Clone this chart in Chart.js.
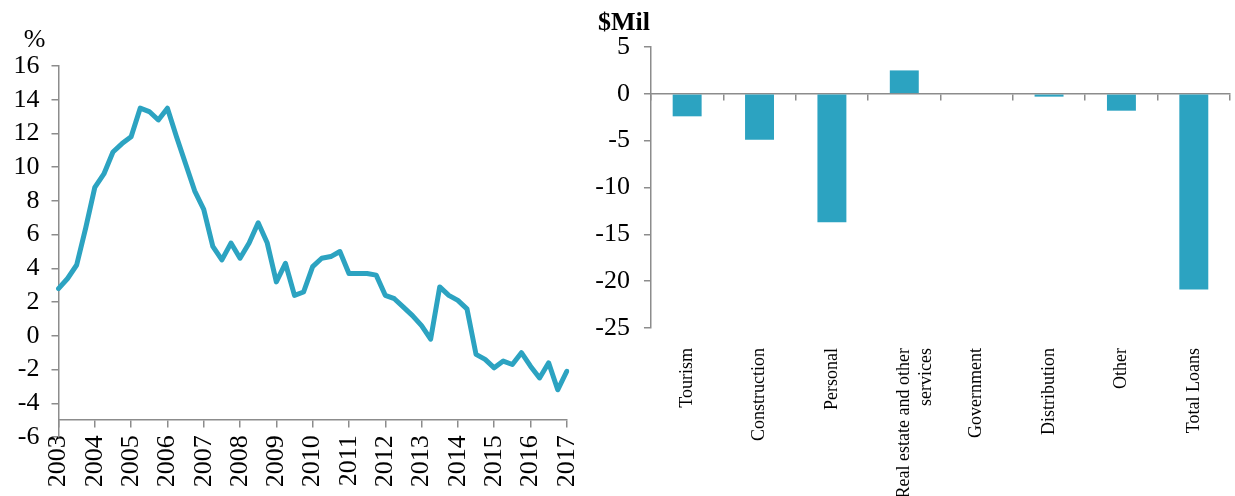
<!DOCTYPE html>
<html>
<head>
<meta charset="utf-8">
<script src="https://cdn.jsdelivr.net/npm/chart.js@4.4.0/dist/chart.umd.min.js"></script>
<style>
  html, body { margin: 0; padding: 0; background: #fff; }
  #wrap { position: relative; width: 1235px; height: 496px; overflow: hidden; }
  canvas { position: absolute; top: 0; }
  #growthChart { left: 0; }
  #loansChart { left: 580px; }
</style>
</head>
<body>
<div id="wrap">
  <canvas id="growthChart" width="606" height="496"></canvas>
  <canvas id="loansChart" width="655" height="496"></canvas>
</div>
<script>
// left panel: quarterly growth, %
const years = ['2003', '2004', '2005', '2006', '2007', '2008', '2009', '2010',
  '2011', '2012', '2013', '2014', '2015', '2016', '2017'];
const growth = [
  2.8, 3.4, 4.2, 6.4,
  8.8, 9.6, 10.9, 11.4,
  11.8, 13.5, 13.3, 12.8,
  13.5, 11.8, 10.2, 8.6,
  7.5, 5.3, 4.5, 5.5,
  4.6, 5.5, 6.7, 5.5,
  3.2, 4.3, 2.4, 2.6,
  4.1, 4.6, 4.7, 5.0,
  3.7, 3.7, 3.7, 3.6,
  2.4, 2.2, 1.7, 1.2,
  0.6, -0.2, 2.9, 2.4,
  2.1, 1.6, -1.1, -1.4,
  -1.9, -1.5, -1.7, -1.0,
  -1.8, -2.5, -1.6, -3.2,
  -2.1
];
const growthTicks = [16, 14, 12, 10, 8, 6, 4, 2, 0, -2, -4, -6];

// right panel: change in loans by sector, $Mil
const sectors = ['Tourism', 'Construction', 'Personal', ['Real estate and other', 'services'],
  'Government', 'Distribution', 'Other', 'Total Loans'];
const loanChange = [-2.4, -4.9, -13.7, 2.5, 0, -0.3, -1.8, -20.9];
const loanTicks = [5, 0, -5, -10, -15, -20, -25];

const teal = '#2ca3c1';
const gray = '#8c8c8c';
const serif = 'Liberation Serif';

// quarter labels, one per point
const quarters = [];
years.forEach((y, i) => {
  const n = i === years.length - 1 ? 1 : 4;
  for (let q = 1; q <= n; q++) quarters.push(y + ' Q' + q);
});

// unit caption above the value axis
const unitLabel = {
  id: 'unitLabel',
  afterDraw(chart, args, opts) {
    const { ctx, chartArea } = chart;
    ctx.save();
    ctx.font = opts.font;
    ctx.fillStyle = '#000';
    ctx.textAlign = 'right';
    ctx.textBaseline = 'middle';
    ctx.fillText(opts.text, chartArea.left + opts.dx, chartArea.top + opts.dy);
    ctx.restore();
  },
};

new Chart(document.getElementById('growthChart'), {
  type: 'line',
  data: {
    labels: quarters,
    datasets: [{
      data: growth,
      borderColor: teal,
      borderWidth: 5,
      pointRadius: 0,
      tension: 0,
      borderJoinStyle: 'round',
      borderCapStyle: 'round',
    }],
  },
  options: {
    responsive: false,
    animation: false,
    devicePixelRatio: 1,
    layout: { padding: { left: 1.5, top: 66, right: 33.5, bottom: 59 } },
    plugins: {
      legend: { display: false },
      tooltip: { enabled: false },
      unitLabel: { text: '%', font: '26px "' + serif + '"', dx: -13, dy: -26 },
    },
    scales: {
      x: {
        position: { y: -5 },
        offset: false,
        grid: {
          drawOnChartArea: false,
          tickLength: 7,
          lineWidth: 1.5,
          color: c => (c.index % 4 === 0 ? gray : 'rgba(0,0,0,0)'),
        },
        border: { color: gray, width: 1.5 },
        ticks: {
          autoSkip: false,
          minRotation: 90,
          maxRotation: 90,
          padding: 8,
          color: '#000',
          font: { family: serif, size: 26 },
          callback: function (v) {
            const l = this.getLabelForValue(v);
            return l.endsWith('Q1') ? l.slice(0, 4) : '';
          },
        },
      },
      y: {
        min: growthTicks[growthTicks.length - 1],
        max: growthTicks[0],
        afterBuildTicks: s => { s.ticks = growthTicks.map(v => ({ value: v })); },
        grid: { drawOnChartArea: false, tickLength: 7, color: gray, lineWidth: 1.5 },
        border: { color: gray, width: 1.5 },
        ticks: { autoSkip: false, padding: 12, color: '#000', font: { family: serif, size: 26 } },
      },
    },
  },
  plugins: [unitLabel],
});

new Chart(document.getElementById('loansChart'), {
  type: 'bar',
  data: {
    labels: sectors,
    datasets: [{
      data: loanChange,
      backgroundColor: teal,
      barPercentage: 0.4,
      categoryPercentage: 1,
    }],
  },
  options: {
    responsive: false,
    animation: false,
    devicePixelRatio: 1,
    layout: { padding: { left: 1.3, top: 47, right: 5, bottom: 0 } },
    plugins: {
      legend: { display: false },
      tooltip: { enabled: false },
      unitLabel: { text: '$Mil', font: 'bold 26px "' + serif + '"', dx: -1, dy: -24 },
    },
    scales: {
      x: {
        position: 'bottom',
        grid: { display: false },
        border: { display: false },
        ticks: {
          autoSkip: false,
          minRotation: 90,
          maxRotation: 90,
          padding: 12,
          color: '#000',
          font: { family: serif, size: 18 },
        },
        afterFit: s => { s.height = 168; },
      },
      // zero line with tick marks between sectors
      zero: {
        axis: 'x',
        type: 'category',
        position: { y: 0 },
        offset: true,
        z: 1,
        grid: { drawOnChartArea: false, offset: true, tickLength: 6, color: gray, lineWidth: 1.5 },
        border: { color: gray, width: 1.5 },
        ticks: { display: false },
      },
      y: {
        min: loanTicks[loanTicks.length - 1],
        max: loanTicks[0],
        afterBuildTicks: s => { s.ticks = loanTicks.map(v => ({ value: v })); },
        grid: { drawOnChartArea: false, tickLength: 7, color: gray, lineWidth: 1.5 },
        border: { color: gray, width: 1.5 },
        ticks: { autoSkip: false, padding: 14, color: '#000', font: { family: serif, size: 26 } },
      },
    },
  },
  plugins: [unitLabel],
});
</script>
</body>
</html>
